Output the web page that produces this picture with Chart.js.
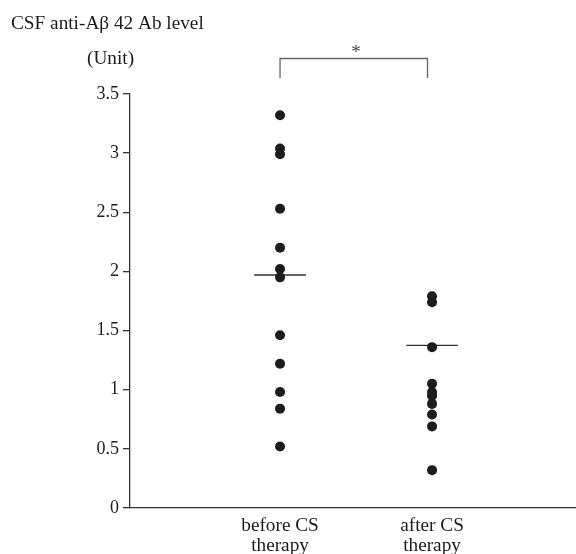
<!DOCTYPE html>
<html>
<head>
<meta charset="utf-8">
<script src="https://cdn.jsdelivr.net/npm/chart.js@4.4.1/dist/chart.umd.min.js"></script>
<style>
    html, body { margin: 0; padding: 0; background: #fff; overflow: hidden; }
    canvas { display: block; }
</style>
</head>
<body>
<canvas id="dotChart" width="576" height="554"></canvas>
<script>
// groups and individual values
const categories = ['before CS\ntherapy', 'after CS\ntherapy'];
const beforeValues = [3.32, 3.04, 2.99, 2.53, 2.20, 2.02, 1.95, 1.46, 1.22, 0.98, 0.84, 0.52];
const afterValues = [1.79, 1.74, 1.36, 1.05, 0.98, 0.95, 0.88, 0.79, 0.69, 0.32];
const centerLines = [1.97, 1.375];
const yTicks = [0, 0.5, 1, 1.5, 2, 2.5, 3, 3.5];
const titleText = 'CSF anti-A\u03b2 42 Ab level';
const unitText = '(Unit)';
const sigMark = '*';

const serif = '"Liberation Serif", "Times New Roman", serif';
const ink = '#1c1c1c';

function toPoints(values, pos) {
    return values.map(v => ({ x: pos, y: v }));
}

// short horizontal line at each group's centre value
function centerLine(value, pos) {
    return [{ x: pos - 0.17, y: value }, { x: pos + 0.17, y: value }];
}

// text drawn slightly wider than the font's natural width
function drawText(ctx, text, x, y, align) {
    const sx = 1.07;
    ctx.save();
    ctx.font = '18px ' + serif;
    ctx.fillStyle = ink;
    ctx.textAlign = align;
    ctx.textBaseline = 'alphabetic';
    ctx.translate(x, y);
    ctx.scale(sx, 1);
    ctx.fillText(text, 0, 0);
    ctx.restore();
}

const labelsPlugin = {
    id: 'labelsPlugin',
    afterDraw(chart) {
        const ctx = chart.ctx;
        const xs = chart.scales.x;
        const ys = chart.scales.y;

        drawText(ctx, titleText, 11, 29, 'left');
        drawText(ctx, unitText, 87, 64, 'left');

        categories.forEach((c, i) => {
            const lines = c.split('\n');
            const px = xs.getPixelForValue(i + 1);
            lines.forEach((ln, j) => {
                drawText(ctx, ln, px, chart.chartArea.bottom + 23 + j * 20, 'center');
            });
        });

        // asterisk over the bracket
        const mx = xs.getPixelForValue(1.5);
        const my = ys.getPixelForValue(3.80);
        ctx.save();
        ctx.font = '19px ' + serif;
        ctx.fillStyle = '#444';
        ctx.textAlign = 'center';
        ctx.textBaseline = 'alphabetic';
        ctx.fillText(sigMark, mx, my - 1);
        ctx.restore();
    }
};

const ctx = document.getElementById('dotChart').getContext('2d');
new Chart(ctx, {
    type: 'scatter',
    data: {
        datasets: [
            {
                data: toPoints(beforeValues, 1),
                backgroundColor: ink,
                borderWidth: 0,
                pointRadius: 5,
                pointHoverRadius: 5
            },
            {
                data: toPoints(afterValues, 2),
                backgroundColor: ink,
                borderWidth: 0,
                pointRadius: 5,
                pointHoverRadius: 5
            },
            {
                type: 'line',
                data: centerLine(centerLines[0], 1),
                borderColor: '#333',
                borderWidth: 1.3,
                pointRadius: 0,
                fill: false
            },
            {
                type: 'line',
                data: centerLine(centerLines[1], 2),
                borderColor: '#333',
                borderWidth: 1.3,
                pointRadius: 0,
                fill: false
            },
            {
                // significance bracket between the two groups
                type: 'line',
                data: [
                    { x: 1, y: 3.635 },
                    { x: 1, y: 3.80 },
                    { x: 1.97, y: 3.80 },
                    { x: 1.97, y: 3.635 }
                ],
                borderColor: '#666',
                borderWidth: 1.3,
                pointRadius: 0,
                fill: false,
                clip: false
            }
        ]
    },
    options: {
        responsive: false,
        animation: false,
        events: [],
        layout: {
            autoPadding: false,
            padding: { top: 94, right: 0, bottom: 46, left: 0 }
        },
        plugins: {
            legend: { display: false },
            tooltip: { enabled: false }
        },
        scales: {
            x: {
                type: 'linear',
                min: 0.013,
                max: 2.947,
                ticks: { display: false },
                grid: { display: false, drawTicks: false },
                border: { display: true, color: '#333', width: 1.3 },
                afterFit: s => {
                    s.height = 0;
                    s.paddingLeft = 0;
                    s.paddingRight = 0;
                }
            },
            y: {
                min: 0,
                max: 3.5,
                afterBuildTicks: s => { s.ticks = yTicks.map(v => ({ value: v })); },
                ticks: {
                    color: ink,
                    padding: 4,
                    font: { family: serif, size: 18 },
                    callback: v => String(v)
                },
                grid: {
                    drawOnChartArea: false,
                    drawTicks: true,
                    tickLength: 7,
                    color: '#333',
                    lineWidth: 1.3
                },
                border: { display: true, color: '#333', width: 1.3 },
                afterFit: s => { s.width = 130; }
            }
        }
    },
    plugins: [labelsPlugin]
});
</script>
</body>
</html>
